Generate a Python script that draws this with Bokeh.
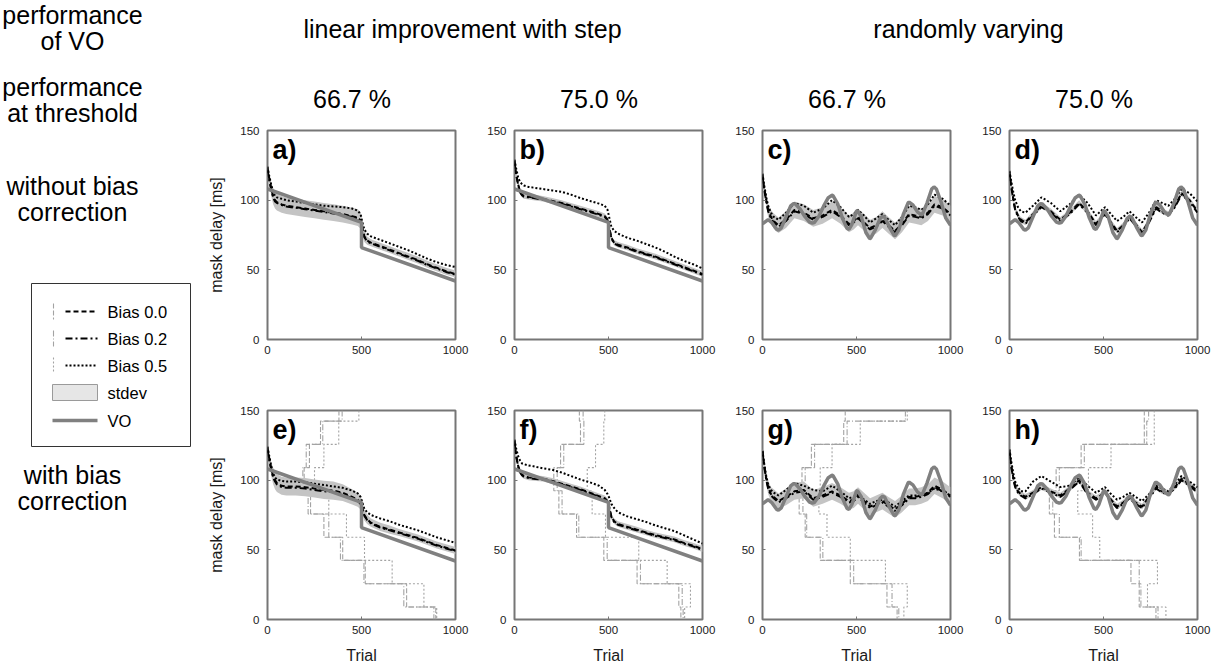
from bokeh.plotting import figure
from bokeh.layouts import row, column
from bokeh.models import Range1d, FixedTicker, Label
from bokeh.embed import file_html
from bokeh.resources import INLINE
from bokeh.core.properties import value

FONT = "Liberation Sans"

# ---------------- data ----------------
TL = [0, 10, 20, 30, 40, 50, 75, 100, 150, 200, 250, 300, 350, 400, 450, 480, 495, 505, 515, 530,
      550, 600, 650, 700, 750, 800, 850, 900, 950, 1000]
TR = [0, 10, 20, 30, 45, 60, 85, 125, 170, 220, 270, 320, 370, 415, 460, 485, 508, 540, 572, 605,
      638, 670, 705, 742, 780, 812, 845, 880, 915, 958, 1000]

VO_L_x = [0, 500, 500, 1000]
VO_L_y = [108, 84, 66, 42]

VO_R_x = [0, 30, 50, 75, 85, 100, 125, 150, 165, 175, 200, 225, 250, 265, 275, 300, 325, 350, 370, 375,
          400, 425, 450, 460, 475, 500, 505, 525, 550, 570, 575, 600, 625, 640, 650, 675, 700, 705, 725,
          750, 775, 780, 800, 825, 845, 850, 875, 900, 912, 925, 950, 975, 1000]
VO_R_y = [83, 86, 83.8, 79.1, 78.5, 80.1, 88, 95.9, 97.5, 97.2, 93.7, 88.3, 84.3, 83.5, 83.9, 88.5, 95.7,
          101.8, 103.5, 103.3, 97.4, 87.1, 79.7, 79, 82.4, 92.1, 92.5, 88.2, 76.8, 72.5, 72.7, 78.7, 86.8,
          88.5, 87.7, 80.7, 74.7, 74.5, 78.5, 90.2, 98.2, 98.5, 96.6, 91.4, 89.5, 89.8, 97.9, 108, 109.5,
          108, 98.7, 87.1, 82]

# panel a: linear, 66.7 %, no correction
a_b00 = [123, 115, 108, 103, 100, 98.5, 97, 96, 95, 94, 93, 92, 91, 90, 88.5, 87.5, 85.5, 80, 74, 71,
         69.5, 67, 64.5, 62, 59.5, 57, 54, 51.5, 49, 47]
a_b02 = [122, 114, 107, 102, 99, 98, 96.5, 95.5, 94.5, 93.5, 92.5, 91.5, 90.5, 89.5, 88, 87, 85, 79, 73.5,
         70.5, 69, 66.5, 64, 61.5, 59, 56.5, 53.5, 51, 48.5, 46.5]
a_b05 = [124, 117, 111, 106, 103, 102, 101, 100, 99, 98, 97, 96, 95.5, 95, 94, 92.5, 90, 84, 79, 76,
         74, 71.5, 69, 66.5, 64, 61, 58, 55.5, 53.5, 52]
a_sd = [1, 3, 5, 6, 6, 6, 6, 6, 6, 6, 6, 6, 6, 6, 6, 6, 6, 5, 4, 3, 2.5, 2.5, 2.5, 2.5, 2.5, 2.5, 2.5,
        2.5, 2.5, 2.5]

# panel b: linear, 75.0 %, no correction
b_b00 = [128, 118, 111, 106, 104, 103, 102.5, 102, 101, 99.5, 98, 96, 94, 92, 90, 88.5, 86, 80, 73, 69.5,
         68, 66, 63.5, 61.5, 59.5, 57, 54.5, 52, 49.5, 47]
b_b02 = [127.5, 117.5, 110.5, 105.5, 103.5, 102.5, 102, 101.5, 100.5, 99, 97.5, 95.5, 93.5, 91.5, 89.5,
         88, 85.5, 79.5, 72.5, 69, 67.5, 65.5, 63, 61, 59, 56.5, 54, 51.5, 49, 46.5]
b_b05 = [129, 122, 116, 113, 111.5, 110.5, 109.5, 109, 108, 107, 106, 104, 101.5, 99.5, 97.5, 96, 93, 87,
         81, 78, 76, 73, 71, 68.5, 66, 63, 59.5, 56.5, 54, 51]
b_sd = [1, 1.5, 2, 2, 2, 2, 2, 2, 2, 2, 2, 2, 2, 2, 2, 2, 2, 2, 2, 2, 2, 2, 2, 2, 2, 2, 2, 2, 2, 2]

# panel c: random, 66.7 %, no correction
c_b00 = [118, 108, 100, 93, 88, 85, 82, 86, 93, 91, 87, 89, 93, 89, 83, 85, 88, 84, 80, 82, 86, 82, 78,
         83, 90, 89, 88, 91, 97, 95, 90]
c_b02 = [117, 107, 99, 92, 87, 84, 81, 85, 92, 90, 86, 88, 92, 88, 82, 84, 87, 83, 79, 81, 85, 81, 77,
         82, 89, 88, 87, 90, 96, 94, 89]
c_b05 = [119, 110, 102, 96, 91, 88, 86, 91, 98, 96, 91, 94, 100, 95, 88, 90, 93, 89, 84, 87, 90, 86, 82,
         88, 96, 95, 93, 97, 104, 101, 96]
c_sd = [2, 3, 4, 5, 5, 5.5, 5.5, 6, 6, 6, 6, 6, 6, 6, 6, 6, 6, 6, 6, 6, 6, 6, 6, 6, 6, 6, 6, 6, 6, 6, 6]

# panel d: random, 75.0 %, no correction
d_b00 = [120, 110, 101, 94, 89, 86, 84, 90, 96, 92, 86, 91, 98, 92, 83, 87, 91, 84, 78, 82, 88, 83, 77,
         85, 95, 92, 90, 96, 105, 100, 92]
d_b02 = [119, 109, 100, 93, 88, 85, 83, 89, 95, 91, 85, 90, 97, 91, 82, 86, 90, 83, 77, 81, 87, 82, 76,
         84, 94, 91, 89, 95, 104, 99, 91]
d_b05 = [121, 113, 106, 100, 95, 92, 91, 96, 102, 98, 92, 97, 104, 98, 89, 92, 95, 90, 85, 88, 92, 88, 84,
         91, 100, 98, 96, 101, 108, 105, 99]
d_sd = [1, 1.5, 2, 2, 2, 2, 2, 2, 2, 2, 2, 2, 2, 2, 2, 2, 2, 2, 2, 2, 2, 2, 2, 2, 2, 2, 2, 2, 2, 2, 2]

# panel e: linear, 66.7 %, with correction
e_b00 = [123, 115, 108, 103, 100, 98, 96, 95.5, 95.5, 95, 94, 93, 92.5, 91, 88, 86, 84, 80, 75, 72, 69.5,
         66.5, 64.5, 62.5, 60.5, 58.5, 56, 53.5, 51.5, 49.5]
e_b02 = [122, 114, 107, 102, 99, 97, 95, 94.5, 94.5, 94, 93, 92, 91.5, 90, 87, 85, 83, 79, 74.5, 71.5, 69,
         66, 64, 62, 60, 58, 55.5, 53, 51, 49]
e_b05 = [124, 117, 110, 105, 102, 100.5, 99.5, 99, 99, 98.5, 97.5, 96.5, 95.5, 94.5, 92.5, 90.5, 88, 84,
         79.5, 77, 75, 72.5, 70.5, 68, 66, 64, 61.5, 59, 57, 55]
e_sd = [1, 3, 5, 6, 6.5, 6.5, 6.5, 6.5, 6.5, 6.5, 6.5, 6.5, 6.5, 6, 5.5, 5, 5, 4.5, 4, 3.5, 3, 3, 3, 2.5,
        2.5, 2.5, 2.5, 2.5, 2.5, 2.5]

# panel f: linear, 75.0 %, with correction
f_b00 = [128, 117, 110, 106, 104, 103, 102, 101.5, 101, 99.5, 97.5, 95.5, 93.5, 91, 88.5, 87, 85, 80, 74,
         70.5, 68.5, 66.5, 64.5, 62.5, 60.5, 59, 57.5, 55, 53, 50.5]
f_b02 = [127.5, 116.5, 109.5, 105.5, 103.5, 102.5, 101.5, 101, 100.5, 99, 97, 95, 93, 90.5, 88, 86.5, 84.5,
         79.5, 73.5, 70, 68, 66, 64, 62, 60, 58.5, 57, 54.5, 52.5, 50]
f_b05 = [129, 122, 117, 114, 112, 111.5, 110.5, 110, 108.5, 107.5, 105.5, 103, 100.5, 98.5, 96, 93, 90, 87,
         83, 80, 77, 74, 72, 70, 67.5, 65.5, 63.5, 60.5, 57.5, 54.5]
f_sd = [1, 1.5, 2, 2, 2, 2, 2, 2, 2, 2, 2, 2, 2, 2, 2, 2, 2, 2, 2, 2, 2, 2, 2, 2, 2, 2, 2, 2, 2, 2]

# panel g: random, 66.7 %, with correction
g_b00 = [121, 110, 101, 95, 90, 88, 85, 88, 92, 93, 87, 89, 92, 89, 85, 86, 89, 85, 81, 83, 85, 82, 79,
         83, 88, 88, 89, 91, 96, 93, 89]
g_b02 = [120, 109, 100, 94, 89, 87, 84, 87, 91, 92, 86, 88, 91, 88, 84, 85, 88, 84, 80, 82, 84, 81, 78,
         82, 87, 87, 88, 90, 95, 92, 88]
g_b05 = [121, 111, 103, 97, 93, 91, 89, 93, 98, 96, 93, 92, 96, 92, 87, 88, 90, 86, 83, 85, 86, 84, 81,
         85, 89, 89, 89, 91, 94, 92, 89]
g_sd = [2, 3, 4, 5, 5, 5.5, 5.5, 6, 6, 6, 6, 6, 6, 6, 6, 6, 6, 6, 6, 6, 6, 6, 6, 6, 6, 6, 6, 6, 6, 6, 6]

# panel h: random, 75.0 %, with correction
h_b00 = [121, 110, 102, 96, 92, 90, 88, 91, 95, 92, 89, 94, 100, 91, 87, 89, 92, 86, 81, 84, 88, 84, 81,
         88, 95, 92, 91, 95, 101, 97, 92]
h_b02 = [120, 109, 101, 95, 91, 89, 87, 90, 94, 91, 88, 93, 99, 90, 86, 88, 91, 85, 80, 83, 87, 83, 80,
         87, 94, 91, 90, 94, 100, 96, 91]
h_b05 = [122, 113, 105, 99, 95, 92, 92, 99, 103, 99, 95, 96, 102, 96, 91, 93, 95, 90, 86, 88, 91, 88, 85,
         90, 96, 94, 92, 97, 103, 99, 95]
h_sd = [1, 1.5, 2, 2, 2, 2, 2, 2, 2, 2, 2, 2, 2, 2, 2, 2, 2, 2, 2, 2, 2, 2, 2, 2, 2, 2, 2, 2, 2, 2, 2]

# bias-correction staircases (bottom row): levels and trial of each vertical step
STAIR_LEVELS = [142.4, 125.7, 109.0, 92.4, 75.7, 59.0, 42.4, 25.7, 9.0]
e_st00 = [380, 282, 223, 195, 229, 300, 400, 520, 740, 895]
e_st02 = [397, 294, 206, 188, 216, 326, 388, 513, 725, 885]
e_st05 = [486, 379, 300, 250, 326, 420, 516, 663, 832, 900]
f_st00 = [345, 351, 245, 209, 236, 330, 475, 652, 874, 885]
f_st02 = [365, 369, 262, 227, 253, 342, 493, 670, 892, 897]
f_st05 = [480, 475, 431, 387, 413, 484, 661, 812, 936, 905]
g_st00 = [440, 432, 260, 210, 195, 227, 307, 467, 662, 716]
g_st02 = [760, 450, 277, 227, 215, 235, 321, 485, 689, 725]
g_st05 = [770, 520, 370, 307, 300, 343, 467, 654, 770, 752]
h_st00 = [717, 717, 381, 248, 212, 239, 372, 646, 690, 779]
h_st02 = [740, 730, 398, 265, 230, 265, 381, 690, 699, 790]
h_st05 = [770, 770, 540, 420, 363, 442, 480, 787, 734, 832]

X_TICKS = [0, 500, 1000]
Y_TICKS = [0, 50, 100, 150]
COL_TITLES = ["linear improvement with step", "randomly varying"]
THRESH = ["66.7 %", "75.0 %", "66.7 %", "75.0 %"]
LEGEND_LABELS = ["Bias 0.0", "Bias 0.2", "Bias 0.5", "stdev", "VO"]

# ---------------- styles ----------------
FRAME_C = "#767676"
VO_C = "#808080"
BAND_C = "#c4c4c4"
STAIR_C = "#a3a3a3"
DASH = {"b00": "5 3", "b02": "7 3 2 3", "b05": "2 2"}
STAIR_DASH = {"b00": "5 2", "b02": "6 2 1 2", "b05": "2 2"}


def stair_path(bounds, levels):
    xs, ys = [bounds[0]], [150]
    for k, lev in enumerate(levels):
        xs += [bounds[k], bounds[k + 1]]
        ys += [lev, lev]
    xs.append(bounds[-1])
    ys.append(0)
    return xs, ys


PANELS = {
    "a": dict(t=TL, b00=a_b00, b02=a_b02, b05=a_b05, sd=a_sd, vo=(VO_L_x, VO_L_y), st=None),
    "b": dict(t=TL, b00=b_b00, b02=b_b02, b05=b_b05, sd=b_sd, vo=(VO_L_x, VO_L_y), st=None),
    "c": dict(t=TR, b00=c_b00, b02=c_b02, b05=c_b05, sd=c_sd, vo=(VO_R_x, VO_R_y), st=None),
    "d": dict(t=TR, b00=d_b00, b02=d_b02, b05=d_b05, sd=d_sd, vo=(VO_R_x, VO_R_y), st=None),
    "e": dict(t=TL, b00=e_b00, b02=e_b02, b05=e_b05, sd=e_sd, vo=(VO_L_x, VO_L_y),
              st=(e_st00, e_st02, e_st05)),
    "f": dict(t=TL, b00=f_b00, b02=f_b02, b05=f_b05, sd=f_sd, vo=(VO_L_x, VO_L_y),
              st=(f_st00, f_st02, f_st05)),
    "g": dict(t=TR, b00=g_b00, b02=g_b02, b05=g_b05, sd=g_sd, vo=(VO_R_x, VO_R_y),
              st=(g_st00, g_st02, g_st05)),
    "h": dict(t=TR, b00=h_b00, b02=h_b02, b05=h_b05, sd=h_sd, vo=(VO_R_x, VO_R_y),
              st=(h_st00, h_st02, h_st05)),
}

FRAME_W, FRAME_H = 188, 209
LEFT_B = [67, 44, 45, 44]
RIGHT_B = [15, 15, 15, 14]


def make_panel(key, col, bottom_row):
    d = PANELS[key]
    top_b = 8
    bot_b = 49 if bottom_row else 63
    p = figure(width=LEFT_B[col] + FRAME_W + RIGHT_B[col], height=top_b + FRAME_H + bot_b,
               x_range=Range1d(0, 1000), y_range=Range1d(0, 150),
               output_backend="svg", toolbar_location=None,
               min_border_left=LEFT_B[col], min_border_right=RIGHT_B[col],
               min_border_top=top_b, min_border_bottom=bot_b)
    p.grid.visible = False
    p.outline_line_color = FRAME_C
    p.outline_line_width = 2
    p.background_fill_color = "white"
    p.border_fill_color = "white"

    if d["st"] is not None:
        for name, bnds in zip(["b00", "b02", "b05"], d["st"]):
            sx, sy = stair_path(bnds, STAIR_LEVELS)
            p.line(sx, sy, line_color=STAIR_C, line_width=1.1, line_dash=STAIR_DASH[name])

    t = d["t"]
    lo = [m - s for m, s in zip(d["b00"], d["sd"])]
    hi = [m + s for m, s in zip(d["b00"], d["sd"])]
    p.varea(x=t, y1=lo, y2=hi, fill_color=BAND_C)

    for name in ["b00", "b02", "b05"]:
        p.line(t, d[name], line_color="black", line_width=2, line_dash=DASH[name])

    p.line(d["vo"][0], d["vo"][1], line_color=VO_C, line_width=3.5)

    for ax, ticks in ((p.xaxis, X_TICKS), (p.yaxis, Y_TICKS)):
        ax.ticker = FixedTicker(ticks=ticks)
        ax.minor_tick_line_color = None
        ax.major_tick_in = 3
        ax.major_tick_out = 0
        ax.major_tick_line_color = FRAME_C
        ax.major_tick_line_width = 1
        ax.axis_line_color = None
        ax.major_label_text_font = FONT
        ax.major_label_text_font_size = "11.5px"
        ax.major_label_text_color = "#1a1a1a"
        ax.axis_label_text_font = FONT
        ax.axis_label_text_font_size = "16px"
        ax.axis_label_text_font_style = "normal"
        ax.axis_label_text_color = "#1a1a1a"
    p.xaxis.major_label_standoff = 6
    p.yaxis.major_label_standoff = 8
    if col == 0:
        p.yaxis.axis_label = "mask delay [ms]"
        p.yaxis.axis_label_standoff = 12
    if bottom_row:
        p.xaxis.axis_label = "Trial"
        p.xaxis.axis_label_standoff = 10

    p.add_layout(Label(x=0, y=150, x_offset=5, y_offset=-4, text=key + ")", text_font=FONT,
                       text_font_style="bold", text_font_size="27px", text_baseline="top",
                       text_align="left", text_color="black"))
    return p


def text_fig(w, h, x0, x1, y0, y1):
    p = figure(width=w, height=h, x_range=Range1d(x0, x1), y_range=Range1d(y1, y0),
               output_backend="svg", toolbar_location=None, x_axis_location=None,
               y_axis_location=None, min_border=0)
    p.grid.visible = False
    p.outline_line_color = None
    return p


TXT = dict(text_font=value(FONT), text_align="center", text_baseline="middle", text_color="black")

# left column: row headings and legend (coordinates in page pixels)
left = text_fig(200, 668, 0, 200, 0, 668)
left.text(x=[72, 72, 72, 72, 72, 72, 72, 72],
          y=[14, 40, 86, 112, 185, 211, 474, 500],
          text=["performance", "of VO", "performance", "at threshold",
                "without bias", "correction", "with bias", "correction"],
          text_font_size="25px", **TXT)
left.quad(left=[31], right=[190], top=[283], bottom=[446], fill_color="white",
          line_color="#333333", line_width=1)
ly = [311, 338, 365, 392, 420]
for i, name in enumerate(["b00", "b02", "b05"]):
    left.line([53, 53], [ly[i] - 8, ly[i] + 8], line_color=STAIR_C, line_width=1.1,
              line_dash=STAIR_DASH[name])
    left.line([65, 97], [ly[i], ly[i]], line_color="black", line_width=2, line_dash=DASH[name])
left.quad(left=[52], right=[97], top=[384], bottom=[400], fill_color="#e6e6e6",
          line_color="#9a9a9a", line_width=1)
left.line([52, 97], [ly[4], ly[4]], line_color=VO_C, line_width=3.5)
left.text(x=[107] * 5, y=ly, text=LEGEND_LABELS, text_font=value(FONT), text_font_size="16.5px",
          text_align="left", text_baseline="middle", text_color="black")

# top header over the panels
header = text_fig(1011, 122, 200, 1211, 0, 122)
header.text(x=[462, 968], y=[28, 28], text=COL_TITLES, text_font_size="25px", **TXT)
header.text(x=[351.5, 598.5, 846.5, 1093.5], y=[98, 98, 98, 98], text=THRESH,
            text_font_size="25px", **TXT)

top_row = row([make_panel(k, i, False) for i, k in enumerate("abcd")], spacing=0)
bot_row = row([make_panel(k, i, True) for i, k in enumerate("efgh")], spacing=0)
right = column([header, top_row, bot_row], spacing=0)
layout = row([left, right], spacing=0)

open("out.html", "w").write(file_html(layout, INLINE))
